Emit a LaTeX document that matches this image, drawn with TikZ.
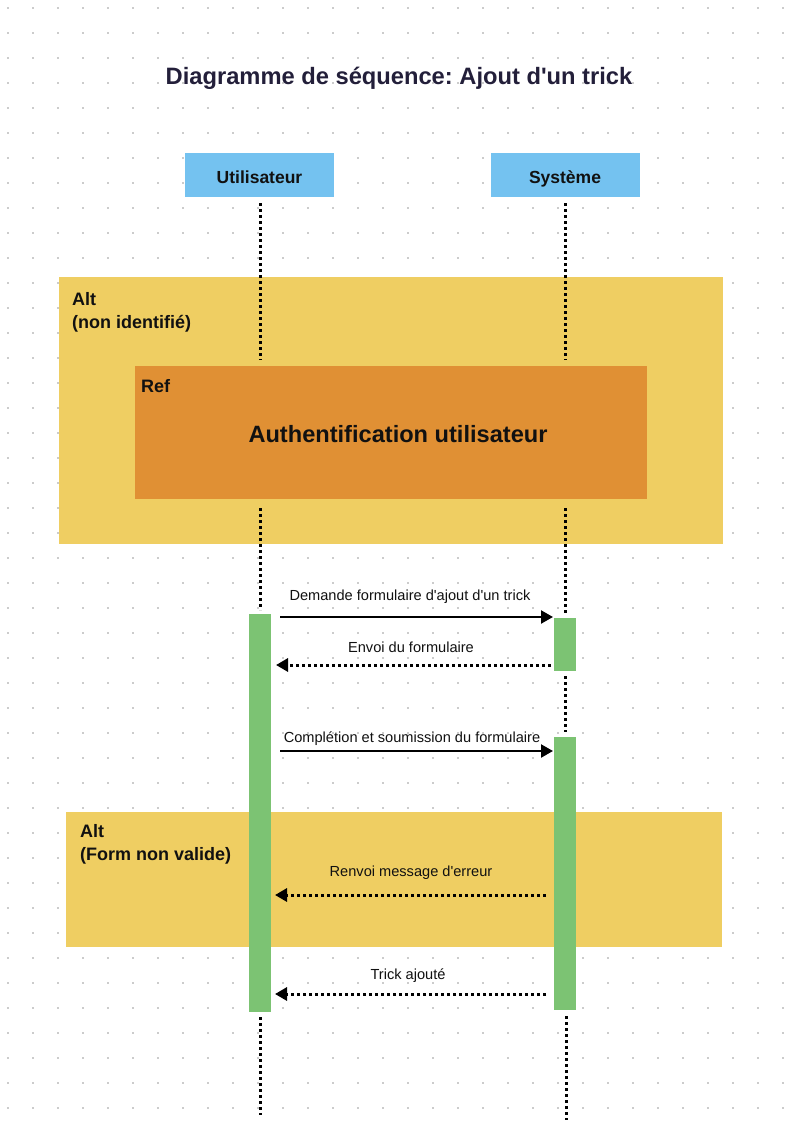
\documentclass[tikz,border=0pt]{standalone}
\usepackage{fontspec}
\setmainfont{Liberation Sans}
\usetikzlibrary{arrows.meta}
\frenchspacing
\definecolor{gridc}{HTML}{CCCCCC}
\definecolor{titlec}{HTML}{231F3A}
\definecolor{headc}{HTML}{74C2F0}
\definecolor{altc}{HTML}{EFCE62}
\definecolor{refc}{HTML}{E09034}
\definecolor{actc}{HTML}{7CC373}
\definecolor{inkc}{HTML}{111111}
\tikzset{
  headbox/.style={fill=headc, draw=none, minimum width=149pt, minimum height=44pt, inner sep=0pt, text height=16pt, text depth=0pt, font=\bfseries\fontsize{17.5}{20}\selectfont, text=inkc},
  altbox/.style={fill=altc, draw=none, inner sep=0pt},
  refbox/.style={fill=refc, draw=none, inner sep=0pt},
  actbar/.style={fill=actc, draw=none, inner sep=0pt},
  framelbl/.style={anchor=north west, inner sep=0pt, align=left, font=\bfseries\fontsize{18}{23}\selectfont, text=inkc},
  lifeline/.style={line width=3pt, dash pattern=on 3pt off 3pt, black},
  callarrow/.style={line width=2.2pt, black, -{Triangle[length=12pt,width=13pt]}},
  replyarrow/.style={line width=3pt, dash pattern=on 3pt off 3pt, black, -{Triangle[length=12pt,width=13pt]}},
  msglbl/.style={inner sep=0pt, font=\fontsize{14.6}{17}\selectfont, text=inkc},
}
\begin{document}
\begin{tikzpicture}[x=1pt,y=-1pt]
\useasboundingbox (0,0) rectangle (787,1122);
\fill[white] (0,0) rectangle (787,1122);
% dot grid
\foreach \gx in {8,33,...,783}{
  \foreach \gy in {8,33,...,1108}{
    \fill[gridc] (\gx-1,\gy-1) rectangle (\gx+1,\gy+1);
  }
}
% title
\node[inner sep=0pt, font=\bfseries\fontsize{23.7}{27}\selectfont, text=titlec] (title) at (399,78) {Diagramme de séquence: Ajout d\textquotesingle un trick};
% headers
\node[headbox] (user) at (259.5,175) {Utilisateur};
\node[headbox] (sys) at (565,175) {Système};
% alt frame 1
\path[altbox] (59,277) rectangle (723,544);
\node[framelbl] (alt1) at (72,292) {Alt\\(non identifié)};
% lifelines upper
\coordinate (u1) at (260,203); \coordinate (u2) at (260,360);
\coordinate (s1) at (565,203); \coordinate (s2) at (565,360);
\draw[lifeline] (u1) -- (u2);
\draw[lifeline] (s1) -- (s2);
% ref frame
\node[refbox, minimum width=512pt, minimum height=133pt] (ref) at (391,432.5) {};
\node[framelbl] (reflbl) at (141,379) {Ref};
\node[inner sep=0pt, font=\bfseries\fontsize{23.6}{27}\selectfont, text=inkc] (reftxt) at (398,434) {Authentification utilisateur};
% alt frame 2
\path[altbox] (66,812) rectangle (722,947);
\node[framelbl] (alt2) at (80,824) {Alt\\(Form non valide)};
% lifelines middle / lower
\coordinate (u3) at (260,508); \coordinate (u4) at (260,610);
\coordinate (u5) at (260,1017); \coordinate (u6) at (260,1115);
\coordinate (s3) at (565,508); \coordinate (s4) at (565,614);
\coordinate (s5) at (565,676); \coordinate (s6) at (565,732);
\coordinate (s7) at (566,1016); \coordinate (s8) at (566,1120);
\draw[lifeline] (u3) -- (u4);
\draw[lifeline] (u5) -- (u6);
\draw[lifeline] (s3) -- (s4);
\draw[lifeline] (s5) -- (s6);
\draw[lifeline] (s7) -- (s8);
% activation bars
\node[actbar, minimum width=22pt, minimum height=398pt] (uact) at (260,813) {};
\node[actbar, minimum width=22pt, minimum height=53pt] (sact1) at (565,644.5) {};
\node[actbar, minimum width=22pt, minimum height=273pt] (sact2) at (565,873.5) {};
% messages
\coordinate (m1a) at (280,617); \coordinate (m1b) at (553,617);
\draw[callarrow] (m1a) -- (m1b);
\node[msglbl] (l1) at (410,597) {Demande formulaire d\textquotesingle ajout d\textquotesingle un trick};
\coordinate (m2a) at (551,665); \coordinate (m2b) at (276,665);
\draw[replyarrow] (m2a) -- (m2b);
\node[msglbl] (l2) at (411,647) {Envoi du formulaire};
\coordinate (m3a) at (280,751); \coordinate (m3b) at (553,751);
\draw[callarrow] (m3a) -- (m3b);
\node[msglbl] (l3) at (412,739) {Complétion et soumission du formulaire};
\coordinate (m4a) at (546,895); \coordinate (m4b) at (275,895);
\draw[replyarrow] (m4a) -- (m4b);
\node[msglbl] (l4) at (411,873) {Renvoi message d\textquotesingle erreur};
\coordinate (m5a) at (546,994); \coordinate (m5b) at (275,994);
\draw[replyarrow] (m5a) -- (m5b);
\node[msglbl] (l5) at (408,976) {Trick ajouté};
\end{tikzpicture}
\end{document}
